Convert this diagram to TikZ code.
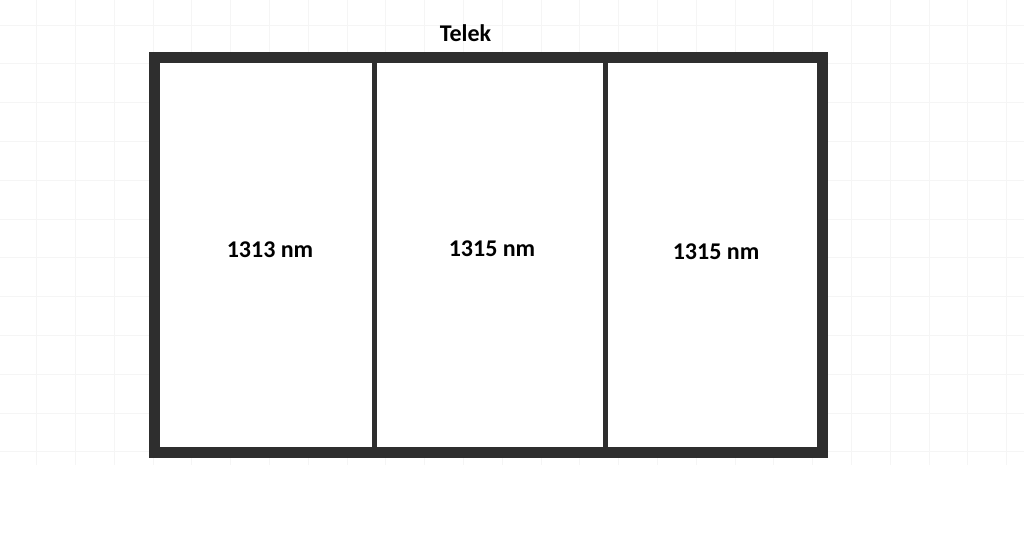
\documentclass[tikz,border=0pt]{standalone}
\usepackage{fontspec}
\setmainfont{Carlito}
\tikzset{
  gridline/.style={black!4, line width=1pt},
  wall/.style={black!82, line width=11pt, fill=white},
  divider/.style={black!82, line width=5pt},
  label/.style={font=\fontsize{24}{28}\selectfont\bfseries, inner sep=0pt}
}
\begin{document}
\begin{tikzpicture}[x=1pt, y=-1pt]
\useasboundingbox[fill=white] (0,0) rectangle (1024,558);

% Background grid
\foreach \k in {0,...,11}
  \draw[gridline] (0,25+38.8*\k) -- (1024,25+38.8*\k);
\foreach \k in {0,...,25}
  \draw[gridline] (36.6+38.8*\k,0) -- (36.6+38.8*\k,465);

% Plot outline and divisions
\draw[wall] (154,57.5) rectangle (822,452.5);
\draw[divider] (374.5,57.5) -- (374.5,452.5);
\draw[divider] (605.5,57.5) -- (605.5,452.5);

% Labels
\node[label, anchor=base] (telek) at (465.5,41.5) {Telek};
\node[label] (plotA) at (270,250) {1313 nm};
\node[label] (plotB) at (492,249) {1315 nm};
\node[label] (plotC) at (716,252) {1315 nm};

\end{tikzpicture}
\end{document}
